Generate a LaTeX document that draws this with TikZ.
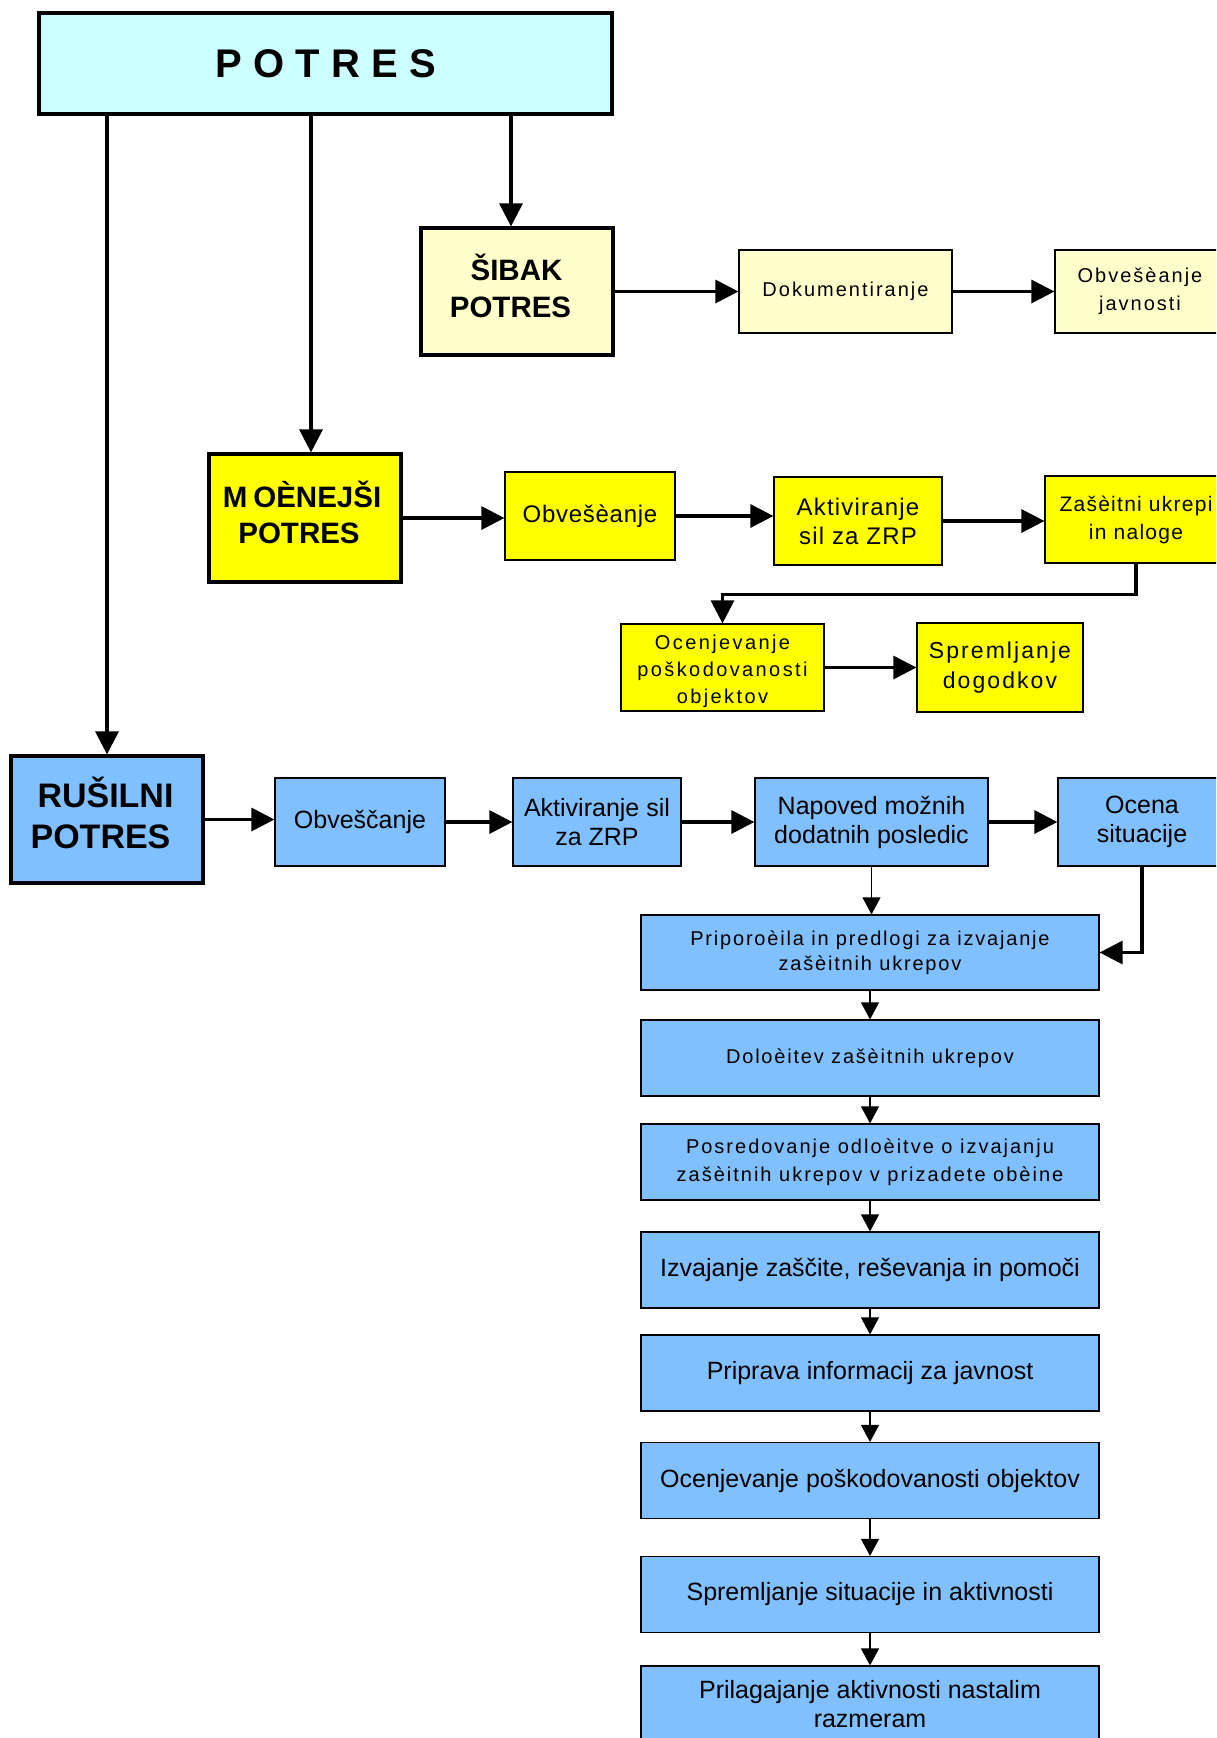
\documentclass[tikz,border=0pt]{standalone}
\usepackage{fontspec}
\setmainfont{Liberation Sans}
\usetikzlibrary{arrows.meta}
\definecolor{cyanbox}{HTML}{CCFFFF}
\definecolor{paleyel}{HTML}{FFFFCC}
\definecolor{yelbox}{HTML}{FFFF00}
\definecolor{bluebox}{HTML}{80C0FF}
\newcommand\myfs[2]{\fontsize{#1}{#2}\selectfont}
\newcommand\lsh[1]{\hspace*{-#1pt}}
\begin{document}
\begin{tikzpicture}[x=1pt,y=-1pt,
  box/.style={draw=black, line width=1.2pt, inner sep=0pt, align=center, text=black},
  mainbox/.style={box, line width=3.2pt},
  arr/.style={line width=3.2pt, -{Triangle[length=23pt,width=23pt]}},
  thinarr/.style={line width=1.3pt, -{Triangle[length=17pt,width=18pt]}},
  smallls/.style={font={\myfs{20}{28}\addfontfeature{LetterSpace=10}}},
  bluetxt/.style={font={\myfs{25}{29}}},
  chain/.style={box, fill=bluebox, minimum width=458pt, minimum height=76pt}
]
\clip (0,0) rectangle (1216,1738);
\fill[white] (0,0) rectangle (1216,1738);

% top
\node[mainbox, fill=cyanbox, minimum width=573pt, minimum height=101pt,
  font={\myfs{40}{48}\bfseries\addfontfeature{LetterSpace=28}}] (top) at (325.5,63.5) {POTRES};

% weak branch
\node[mainbox, fill=paleyel, minimum width=192pt, minimum height=127pt, text depth=11pt,
  font={\myfs{29.5}{36.5}\bfseries}] (sib) at (517,291.5) {\lsh{1}ŠIBAK\\\lsh{13}POTRES};
\node[box, fill=paleyel, minimum width=213pt, minimum height=83pt, smallls] (dok) at (845.5,291.5) {Dokumentiranje};
\node[box, fill=paleyel, minimum width=170pt, minimum height=83pt, smallls] (objav) at (1140,291.5) {Obvešèanje\\javnosti};

% stronger branch
\node[mainbox, fill=yelbox, minimum width=192pt, minimum height=128pt, text depth=11pt,
  font={\myfs{29.5}{36.5}\bfseries}] (moc) at (305,518) {\lsh{6}M\kern6pt OÈNEJŠI\\\lsh{12}POTRES};
\node[box, fill=yelbox, minimum width=170pt, minimum height=88pt,
  font={\myfs{24}{29}\addfontfeature{LetterSpace=3}}] (obvY) at (590,516) {Obvešèanje};
\node[box, fill=yelbox, minimum width=168pt, minimum height=88pt,
  font={\myfs{24}{29}\addfontfeature{LetterSpace=5}}] (aktY) at (858,521) {Aktiviranje\\sil za ZRP};
\node[box, fill=yelbox, minimum width=182pt, minimum height=87pt,
  font={\myfs{21}{28}\addfontfeature{LetterSpace=6}}] (zas) at (1136,519.5) {Zašèitni ukrepi\\in naloge};
\node[box, fill=yelbox, minimum width=203pt, minimum height=87pt, text depth=0pt, text height=72pt,
  font={\myfs{20}{26.8}\addfontfeature{LetterSpace=12}}] (ocY) at (722.5,667.5) {Ocenjevanje\\poškodovanosti\\objektov};
\node[box, fill=yelbox, minimum width=166pt, minimum height=89pt,
  font={\myfs{23}{30}\addfontfeature{LetterSpace=9}}] (sprY) at (1000,667.5) {Spremljanje\\dogodkov};

% destructive branch
\node[mainbox, fill=bluebox, minimum width=192pt, minimum height=127pt, text depth=14pt,
  font={\myfs{34}{41}\bfseries}] (rus) at (107,819.5) {\lsh{3}RUŠILNI\\\lsh{13}POTRES};
\node[box, fill=bluebox, minimum width=170pt, minimum height=88pt, bluetxt] (obvB) at (360,822) {Obveščanje};
\node[box, fill=bluebox, minimum width=168pt, minimum height=88pt, bluetxt] (aktB) at (597,822) {Aktiviranje sil\\za ZRP};
\node[box, fill=bluebox, minimum width=233pt, minimum height=88pt, bluetxt] (nap) at (871.5,822) {Napoved možnih\\dodatnih posledic};
\node[box, fill=bluebox, minimum width=168pt, minimum height=88pt, bluetxt] (ocena) at (1142,822) {Ocena\\situacije};

\node[chain, minimum height=75pt, font={\myfs{20}{25.5}\addfontfeature{LetterSpace=9}}] (prip) at (870,952.5) {Priporoèila in predlogi za izvajanje\\zašèitnih ukrepov};
\node[chain, font={\myfs{20}{27.7}\addfontfeature{LetterSpace=9}}] (dol) at (870,1058) {Doloèitev zašèitnih ukrepov};
\node[chain, font={\myfs{20}{27.7}\addfontfeature{LetterSpace=10}}] (posr) at (870,1162) {Posredovanje odloèitve o izvajanju\\zašèitnih ukrepov v prizadete obèine};
\node[chain, bluetxt] (izv) at (870,1270) {Izvajanje zaščite, reševanja in pomoči};
\node[chain, bluetxt] (pripr) at (870,1373) {Priprava informacij za javnost};
\node[chain, bluetxt] (ocB) at (870,1480.5) {Ocenjevanje poškodovanosti objektov};
\node[chain, bluetxt] (sprB) at (870,1594.5) {Spremljanje situacije in aktivnosti};
\node[chain, bluetxt] (pril) at (870,1704) {Prilagajanje aktivnosti nastalim\\razmeram};

% connectors from top
\draw[arr] (rus.north |- top.south) -- (rus.north);
\draw[arr] ([xshift=6pt]moc.north |- top.south) -- ([xshift=6pt]moc.north);
\draw[arr] ([xshift=-6pt]sib.north |- top.south) -- ([xshift=-6pt]sib.north);

% weak
\draw[arr] (sib.east) -- (dok.west);
\draw[arr] (dok.east) -- (objav.west);

% stronger
\draw[arr] (moc.east) -- (moc.east -| obvY.west);
\draw[arr] (obvY.east) -- (obvY.east -| aktY.west);
\draw[arr] (aktY.east) -- (aktY.east -| zas.west);
\draw[arr] (zas.south) -- ++(0,31) -| (ocY.north);
\draw[arr] (ocY.east) -- (ocY.east -| sprY.west);

% destructive
\draw[arr] (rus.east) -- (rus.east -| obvB.west);
\draw[arr] (obvB.east) -- (obvB.east -| aktB.west);
\draw[arr] (aktB.east) -- (aktB.east -| nap.west);
\draw[arr] (nap.east) -- (nap.east -| ocena.west);
\draw[thinarr] (nap.south) -- (nap.south |- prip.north);
\draw[arr] (ocena.south) |- (prip.east);

\draw[thinarr] (prip.south) -- (dol.north);
\draw[thinarr] (dol.south) -- (posr.north);
\draw[thinarr] (posr.south) -- (izv.north);
\draw[thinarr] (izv.south) -- (pripr.north);
\draw[thinarr] (pripr.south) -- (ocB.north);
\draw[thinarr] (ocB.south) -- (sprB.north);
\draw[thinarr] (sprB.south) -- (pril.north);
\end{tikzpicture}
\end{document}
